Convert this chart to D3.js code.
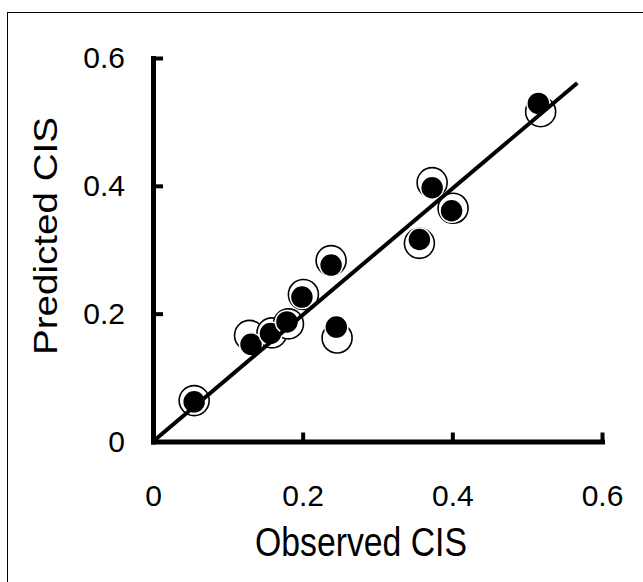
<!DOCTYPE html>
<html>
<head>
<meta charset="utf-8">
<script src="https://cdn.jsdelivr.net/npm/d3@7"></script>
<style>
  body { margin: 0; background: #fff; }
  text { font-family: "Liberation Sans", Arial, sans-serif; fill: #000; }
</style>
</head>
<body>
<div id="chart"></div>
<script>
// Data
const openObserved = [0.055, 0.129, 0.159, 0.181, 0.201, 0.238, 0.246, 0.356, 0.373, 0.401, 0.518];
const openPredicted = [0.064, 0.166, 0.170, 0.184, 0.230, 0.283, 0.162, 0.310, 0.405, 0.365, 0.516];
const filledObserved = [0.055, 0.131, 0.157, 0.179, 0.199, 0.238, 0.245, 0.356, 0.373, 0.399, 0.515];
const filledPredicted = [0.062, 0.152, 0.169, 0.187, 0.226, 0.276, 0.179, 0.316, 0.397, 0.361, 0.529];
const lineX = [0, 0.567];
const lineY = [0, 0.561];
const tickValues = [0, 0.2, 0.4, 0.6];
const tickLabels = ["0", "0.2", "0.4", "0.6"];
const xTitle = "Observed CIS";
const yTitle = "Predicted CIS";

const width = 643;
const height = 582;

const svg = d3.select("#chart")
  .append("svg")
  .attr("width", width)
  .attr("height", height);

// Outer frame (cut off at right and bottom)
svg.append("rect")
  .attr("x", 7.5)
  .attr("y", 12.5)
  .attr("width", 700)
  .attr("height", 700)
  .attr("fill", "none")
  .attr("stroke", "#000")
  .attr("stroke-width", 1);

// Scales
const xScale = d3.scaleLinear().domain([0, 0.6]).range([153, 602]);
const yScale = d3.scaleLinear().domain([0, 0.6]).range([441.5, 58]);

const fmt = d => tickLabels[tickValues.indexOf(d)];

// Axes
const xAxis = d3.axisBottom(xScale)
  .tickValues(tickValues)
  .tickFormat(fmt)
  .tickSizeInner(-9)
  .tickSizeOuter(0)
  .tickPadding(43);

const yAxis = d3.axisLeft(yScale)
  .tickValues(tickValues)
  .tickFormat(fmt)
  .tickSizeInner(-10)
  .tickSizeOuter(0)
  .tickPadding(28);

const gx = svg.append("g")
  .attr("transform", `translate(0, ${yScale(0)})`)
  .call(xAxis);

const gy = svg.append("g")
  .attr("transform", `translate(${xScale(0)}, 0)`)
  .call(yAxis);

[gx, gy].forEach(g => {
  g.select(".domain").attr("stroke", "#000").attr("stroke-width", 5).attr("stroke-linecap", "square");
  g.selectAll(".tick line").attr("stroke", "#000").attr("stroke-width", 4);
  g.selectAll(".tick text")
    .attr("font-family", "Liberation Sans, Arial, sans-serif")
    .attr("font-size", 30)
    .attr("fill", "#000");
});
gx.selectAll(".tick").filter(d => d === 0).select("line").remove();
gy.selectAll(".tick").filter(d => d === 0).select("line").remove();

// Open circles
svg.append("g")
  .selectAll("circle")
  .data(openObserved.map((x, i) => [x, openPredicted[i]]))
  .enter()
  .append("circle")
  .attr("cx", d => xScale(d[0]))
  .attr("cy", d => yScale(d[1]))
  .attr("r", 15)
  .attr("fill", "#fff")
  .attr("stroke", "#000")
  .attr("stroke-width", 1.6);

// Filled circles
svg.append("g")
  .selectAll("circle")
  .data(filledObserved.map((x, i) => [x, filledPredicted[i]]))
  .enter()
  .append("circle")
  .attr("cx", d => xScale(d[0]))
  .attr("cy", d => yScale(d[1]))
  .attr("r", 11.5)
  .attr("fill", "#000")
  .attr("stroke", "#fff")
  .attr("stroke-width", 1.5);

// Fitted line
svg.append("path")
  .datum(lineX.map((x, i) => [x, lineY[i]]))
  .attr("d", d3.line().x(d => xScale(d[0])).y(d => yScale(d[1])))
  .attr("fill", "none")
  .attr("stroke", "#000")
  .attr("stroke-width", 4);

// Axis titles
svg.append("text")
  .attr("x", 361)
  .attr("y", 556)
  .attr("text-anchor", "middle")
  .attr("font-size", 40)
  .attr("textLength", 212)
  .attr("lengthAdjust", "spacingAndGlyphs")
  .text(xTitle);

svg.append("text")
  .attr("transform", "translate(57, 236) rotate(-90)")
  .attr("text-anchor", "middle")
  .attr("font-size", 34)
  .attr("textLength", 238)
  .attr("lengthAdjust", "spacingAndGlyphs")
  .text(yTitle);
</script>
</body>
</html>
